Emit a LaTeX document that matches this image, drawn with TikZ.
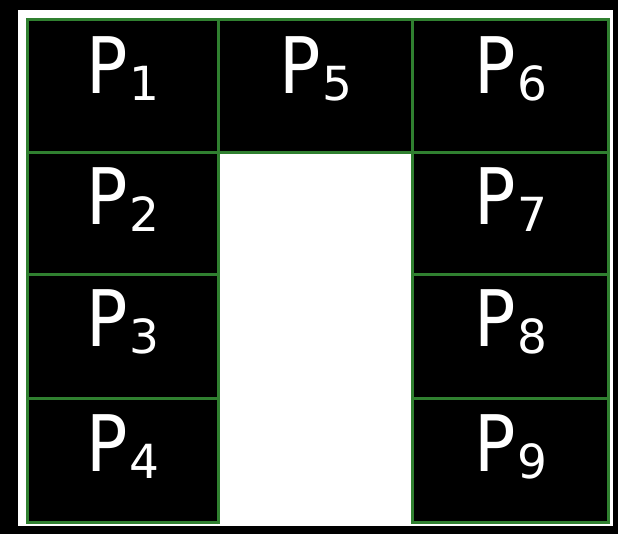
\documentclass[tikz,border=0pt]{standalone}
\usepackage{fontspec}
\setmainfont{DejaVu Sans}
\newfontfamily\cellfont[FakeStretch=0.88]{DejaVu Sans}
\definecolor{gridGreen}{RGB}{48,128,48}
% label of one cell: big P with a lowered digit
\newcommand{\pname}[1]{{\cellfont P}\kern2pt\raisebox{-7pt}{\fontsize{47}{47}\selectfont #1}}
\begin{document}
\begin{tikzpicture}[x=1pt, y=-1pt,
  gridline/.style={draw=gridGreen, line width=3pt},
  plabel/.style={text=white, inner sep=0pt, font=\fontsize{78}{80}\selectfont}]
\useasboundingbox (0,0) rectangle (618,534);
% frame and cells
\fill[black] (0,0) rectangle (618,534);
\fill[white] (18,10) rectangle (613,526);
\fill[black] (27,20) rectangle (608,522);
\fill[white] (218,153) rectangle (412,526);
% green grid
\draw[gridline, line join=miter] (218,524) -- (218,522) -- (27,522) -- (27,20) -- (608,20) -- (608,522) -- (412,522) -- (412,524);
\draw[gridline] (218,524) -- (218,153) -- (412,153) -- (412,524);
\draw[gridline] (218,20) -- (218,153);
\draw[gridline] (412,20) -- (412,153);
\foreach \y in {153,275,398} {
  \draw[gridline] (27,\y) -- (218,\y);
  \draw[gridline] (412,\y) -- (608,\y);
}
% labels
\foreach \n/\x/\y in {1/123/69, 2/123/200, 3/123/322, 4/123/447,
                      5/316/69, 6/511/69, 7/511/200, 8/511/322, 9/511/447}
  \node[plabel] (p\n) at (\x,\y) {\pname{\n}};
\end{tikzpicture}
\end{document}
